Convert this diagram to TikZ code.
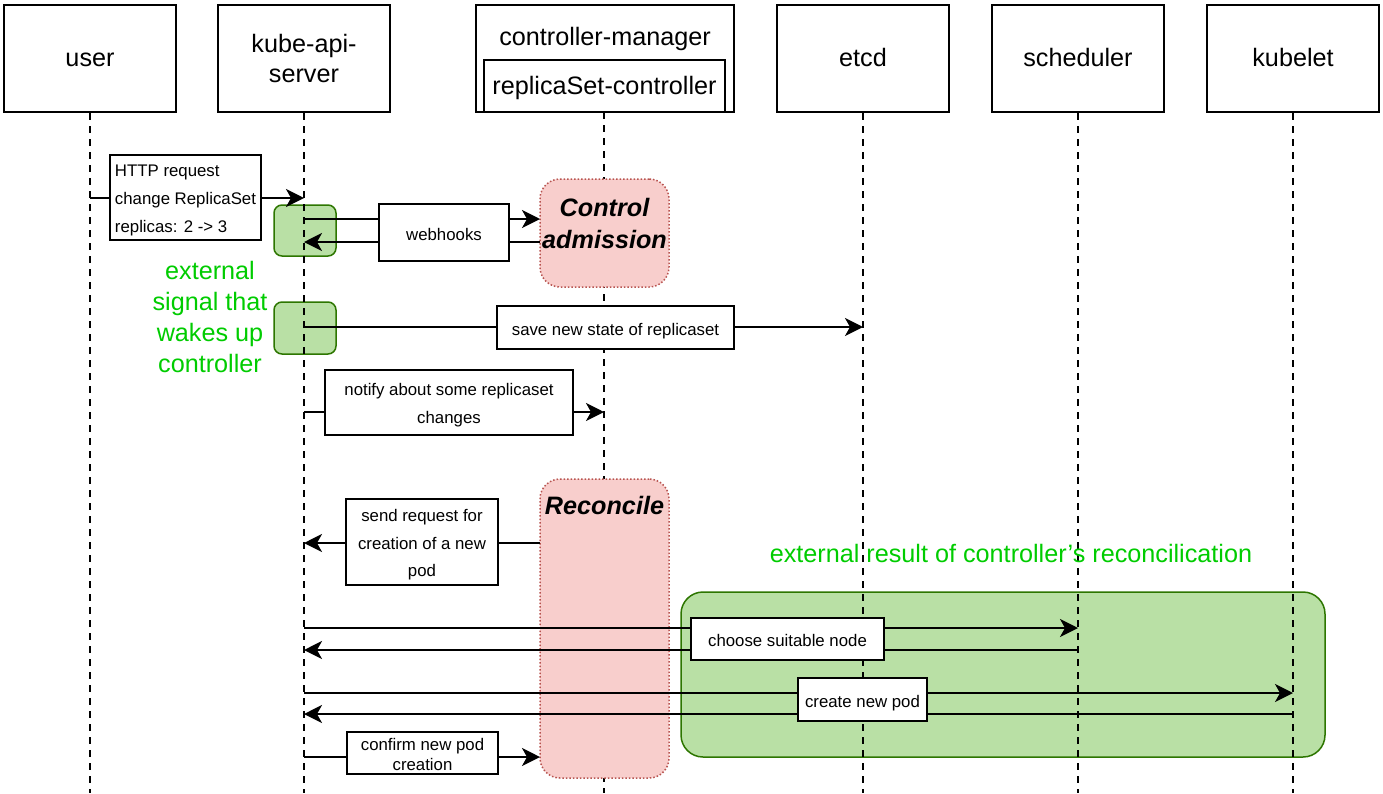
\documentclass[tikz,border=0pt]{standalone}
\usepackage{fontspec}
\setmainfont{Liberation Sans}
\usetikzlibrary{arrows.meta}
\definecolor{gfill}{HTML}{B9E0A5}
\definecolor{gdraw}{HTML}{2D7600}
\definecolor{pfill}{HTML}{F8CECC}
\definecolor{pdraw}{HTML}{B85450}
\definecolor{gtext}{HTML}{00CC00}
\tikzset{
  big/.style={font=\fontsize{25.2}{30.4}\selectfont},
  small/.style={font=\fontsize{16.8}{28}\selectfont},
  bigone/.style={big, text height=16.4pt, text depth=0pt},
  smallone/.style={small, text height=15pt, text depth=0pt},
  head/.style={draw, line width=2pt, minimum width=172pt, minimum height=107pt, align=center, inner sep=0pt},
  life/.style={line width=1.5pt, dash pattern=on 7pt off 6pt},
  act/.style={draw=gdraw, fill=gfill, line width=1.5pt, rounded corners=8pt, inner sep=0pt},
  proc/.style={draw=pdraw, fill=pfill, line width=1.5pt, dotted, rounded corners=20pt, inner sep=0pt, minimum width=129pt},
  lbl/.style={draw, fill=white, line width=2pt, align=center, inner sep=2pt},
  ltext/.style={small, align=center, inner sep=2pt},
  msg/.style={line width=2pt, -{Stealth[length=18pt,width=18pt,inset=5pt]}},
  gnote/.style={text=gtext, big, align=center},
  boldit/.style={font=\fontsize{25.2}{32}\selectfont\bfseries\itshape, align=center}
}
\begin{document}
\begin{tikzpicture}[x=1pt,y=-1pt]
\useasboundingbox (0,0) rectangle (1383,793);
\fill[white] (0,0) rectangle (1383,793);

% headers
\node[head, bigone] (user) at (90,58.5) {user};
\node[head, big] (api) at (304,58.5) {kube-api-\\server};
\node[draw, line width=2pt, minimum width=258pt, minimum height=107pt, inner sep=0pt] (cm) at (605,58.5) {};
\node[bigone, inner sep=0pt] (cmt) at (605,37.5) {controller-manager};
\node[draw, line width=1.5pt, minimum width=241pt, minimum height=52pt, inner sep=0pt, bigone] (rsc) at (604.5,86) {replicaSet-controller};
\node[head, bigone] (etcd) at (863,58.5) {etcd};
\node[head, bigone] (sched) at (1078,58.5) {scheduler};
\node[head, bigone] (kubelet) at (1293,58.5) {kubelet};

% green regions (below lifelines)
\node[act, minimum width=62pt, minimum height=51pt] (act1) at (305,230.5) {};
\node[act, minimum width=62pt, minimum height=52pt] (act2) at (305,328) {};
\node[act, rounded corners=22pt, minimum width=644pt, minimum height=165pt] (result) at (1003,674.5) {};

% lifelines
\coordinate (userEnd) at (90,793);
\coordinate (apiEnd) at (304,793);
\coordinate (cmTop) at (604,112);
\coordinate (cmEnd) at (604,793);
\coordinate (etcdEnd) at (863,793);
\coordinate (schedEnd) at (1078,793);
\coordinate (kubeletEnd) at (1293,793);
\draw[life] (user.south) -- (userEnd);
\draw[life] (api.south) -- (apiEnd);
\draw[life] (cmTop) -- (cmEnd);
\draw[life] (etcd.south) -- (etcdEnd);
\draw[life] (sched.south) -- (schedEnd);
\draw[life] (kubelet.south) -- (kubeletEnd);

% pink processing boxes
\node[proc, minimum height=108pt] (adm) at (604.5,233) {};
\node[boldit] (admt) at (604.5,223) {Control\\admission};
\node[proc, minimum height=299pt] (rec) at (604.5,628.5) {};
\node[boldit] (rect) at (604.5,505) {Reconcile};

% green notes
\node[gnote, font=\fontsize{25.2}{30.7}\selectfont] (note1) at (210,317) {external\\signal that\\wakes up\\controller};
\node[gnote] (note2) at (1011,553) {external result of controller's reconcilication};

% message points
\coordinate (u1) at (90,198);   \coordinate (a1) at (304,198);
\coordinate (a2) at (304,219);  \coordinate (p2) at (540,219);
\coordinate (p3) at (540,242);  \coordinate (a3) at (304,242);
\coordinate (a4) at (304,327);  \coordinate (e4) at (863,327);
\coordinate (a5) at (304,412);  \coordinate (c5) at (604,412);
\coordinate (p6) at (540,543);  \coordinate (a6) at (304,543);
\coordinate (a7) at (304,628);  \coordinate (s7) at (1078,628);
\coordinate (s8) at (1078,650); \coordinate (a8) at (304,650);
\coordinate (a9) at (304,693);  \coordinate (k9) at (1293,693);
\coordinate (k10) at (1293,714); \coordinate (a10) at (304,714);
\coordinate (a11) at (304,757); \coordinate (p11) at (540,757);

% messages
\draw[msg] (u1) -- (a1);
\draw[msg] (a2) -- (p2);
\draw[msg] (p3) -- (a3);
\draw[msg] (a4) -- (e4);
\draw[msg] (a5) -- (c5);
\draw[msg] (p6) -- (a6);
\draw[msg] (a7) -- (s7);
\draw[msg] (s8) -- (a8);
\draw[msg] (a9) -- (k9);
\draw[msg] (k10) -- (a10);
\draw[msg] (a11) -- (p11);

% labels
\node[lbl, minimum width=151pt, minimum height=85pt,
  label={[ltext, align=left, yshift=-3pt]center:{HTTP request\\change ReplicaSet\\replicas: 2 -> 3}}] (l1) at (185.5,197.5) {};
\node[lbl, smallone, minimum width=130pt, minimum height=57pt] (l2) at (444,232.5) {webhooks};
\node[lbl, smallone, minimum width=237pt, minimum height=43pt] (l4) at (615.5,327.5) {save new state of replicaset};
\node[lbl, minimum width=248pt, minimum height=65pt,
  label={[ltext, yshift=-3pt]center:{notify about some replicaset\\changes}}] (l5) at (449,402.5) {};
\node[lbl, minimum width=152pt, minimum height=86pt,
  label={[ltext, font=\fontsize{16.8}{27.5}\selectfont, yshift=-3pt]center:{send request for\\creation of a new\\pod}}] (l6) at (422,542) {};
\node[lbl, smallone, minimum width=193pt, minimum height=42pt] (l7) at (787.5,639) {choose suitable node};
\node[lbl, smallone, minimum width=129pt, minimum height=43pt] (l9) at (862.5,699.5) {create new pod};
\node[lbl, minimum width=151pt, minimum height=42pt,
  label={[ltext, font=\fontsize{16.8}{19.5}\selectfont, yshift=-1.5pt]center:{confirm new pod\\creation}}] (l11) at (422.5,753) {};
\end{tikzpicture}
\end{document}
